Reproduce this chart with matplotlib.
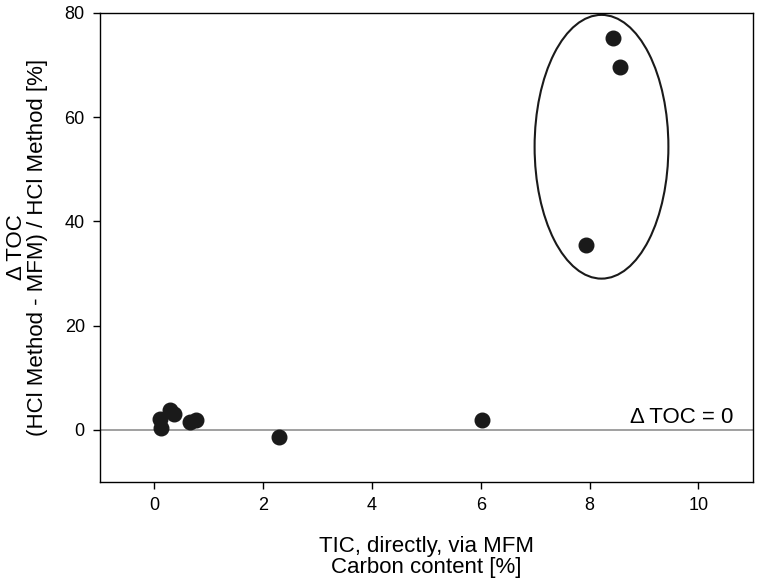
import matplotlib.pyplot as plt
from matplotlib.patches import Ellipse

plt.rcParams['font.family'] = ['Liberation Sans', 'DejaVu Sans']

# TIC via MFM [%] vs. relative TOC difference [%]
tic = [0.12, 0.10, 0.29, 0.36, 0.66, 0.76, 2.29, 6.03, 7.93, 8.43, 8.56]
delta_toc = [0.3, 2.1, 3.7, 3.1, 1.4, 1.9, -1.4, 1.8, 35.5, 75.2, 69.6]

x_ticks = [0, 2, 4, 6, 8, 10]
y_ticks = [0, 20, 40, 60, 80]

# outlier group marked by an ellipse (center x, center y, width, height in data units)
outlier_ellipse = (8.22, 54.3, 2.46, 50.6)

fig = plt.figure(figsize=(7.58, 5.82), dpi=100)
ax = fig.add_axes([0.132, 0.172, 0.861, 0.806])

ax.axhline(0, color='#999999', linewidth=1.3, zorder=1)
ax.plot(tic, delta_toc, linestyle='none', marker='o', markersize=10.5,
        color='#1a1a1a', zorder=3)

cx, cy, w, h = outlier_ellipse
ax.add_patch(Ellipse((cx, cy), w, h, fill=False, edgecolor='#1a1a1a',
                     linewidth=1.5, zorder=2))

ax.text(8.75, 0.4, '\u0394 TOC = 0', fontsize=16, ha='left', va='bottom')

ax.set_xlim(-1, 11)
ax.set_ylim(-10, 80)
ax.set_xticks(x_ticks)
ax.set_yticks(y_ticks)
ax.tick_params(direction='out', length=5, width=1, labelsize=13, pad=6,
               top=False, right=False)
for sp in ax.spines.values():
    sp.set_linewidth(1.0)

ax.set_xlabel('TIC, directly, via MFM\nCarbon content [%]', fontsize=16,
              labelpad=16, linespacing=1.0)
ax.set_ylabel('\u0394 TOC\n(HCl Method - MFM) / HCl Method [%]', fontsize=16,
              labelpad=12, linespacing=1.0)

fig.savefig('out.png', dpi=100)
